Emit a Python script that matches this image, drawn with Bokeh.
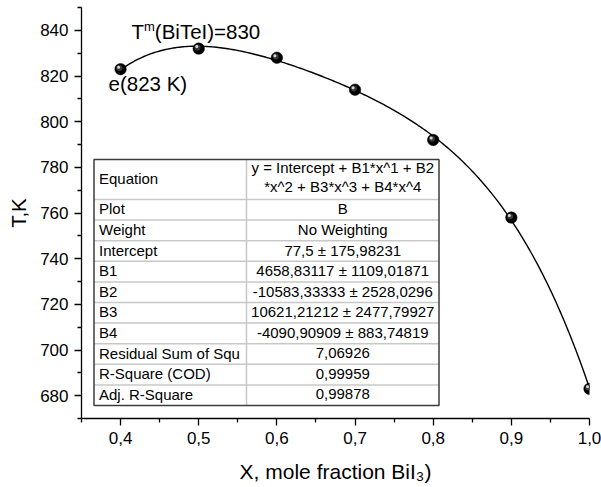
import numpy as np
from bokeh.plotting import figure
from bokeh.models import Range1d, FixedTicker, CustomJSTickFormatter, Label
from bokeh.core.properties import value
from bokeh.embed import file_html
from bokeh.resources import INLINE

# ---------------- data ----------------
x_frac = [0.4, 0.5, 0.6, 0.7, 0.8, 0.9, 1.0]
t_k = [823, 832, 828, 814, 792, 758, 683]
# polynomial fit coefficients shown in the table (Intercept, B1..B4)
fit_coef = [77.5, 4658.83117, -10583.33333, 10621.21212, -4090.90909]

x_ticks = [0.4, 0.5, 0.6, 0.7, 0.8, 0.9, 1.0]
x_minor = [0.35, 0.45, 0.55, 0.65, 0.75, 0.85, 0.95]
y_ticks = [680, 700, 720, 740, 760, 780, 800, 820, 840]
y_minor = [670, 690, 710, 730, 750, 770, 790, 810, 830, 850]

table_names = ["Equation", "Plot", "Weight", "Intercept", "B1", "B2", "B3", "B4",
               "Residual Sum of Squ", "R-Square (COD)", "Adj. R-Square"]
table_values = [["y = Intercept + B1*x^1 + B2", "*x^2 + B3*x^3 + B4*x^4"],
                ["B"], ["No Weighting"], ["77,5 \u00b1 175,98231"],
                ["4658,83117 \u00b1 1109,01871"], ["-10583,33333 \u00b1 2528,0296"],
                ["10621,21212 \u00b1 2477,79927"], ["-4090,90909 \u00b1 883,74819"],
                ["7,06926"], ["0,99959"], ["0,99878"]]

x_label = "X, mole fraction BiI\u2083)"
y_label = "T,K"
melt_label = ["T", "m", "(BiTeI)=830"]
eut_label = "e(823 K)"

# ---------------- layout ----------------
W, H = 601, 487
FL, FR, FT, FB = 81, 589, 7, 418
XMIN, XMAX, YMIN, YMAX = 0.35, 1.0, 670, 850
FONT = "Liberation Sans"
BSHIFT = 0.42  # baseline correction (fraction of font size)


def dx(px):
    return XMIN + (px - FL) / (FR - FL) * (XMAX - XMIN)


def dy(py):
    return YMAX - (py - FT) / (FB - FT) * (YMAX - YMIN)


ADV = {'X': .667, ',': .278, ' ': .278, 'm': .833, 'o': .556, 'l': .222, 'e': .556,
       'f': .278, 'r': .333, 'a': .556, 'c': .5, 't': .278, 'i': .222, 'n': .556,
       'B': .667, 'I': .278, ')': .333, '(': .333, 'T': .611, 'K': .667, '=': .584}


def tw(s, size):
    return sum(ADV.get(ch, .556) for ch in s) * size


p = figure(width=W, height=H, x_range=Range1d(XMIN, XMAX), y_range=Range1d(YMIN, YMAX),
           output_backend="svg", toolbar_location=None,
           min_border_left=FL, min_border_right=W - FR, min_border_top=FT,
           min_border_bottom=H - FB)
p.outline_line_color = None
p.grid.visible = False
p.background_fill_color = "white"
p.border_fill_color = "white"

for ax in (p.xaxis[0], p.yaxis[0]):
    ax.axis_line_width = 1.3
    ax.axis_line_color = "black"
    ax.major_tick_line_width = 1.3
    ax.minor_tick_line_width = 1.3
    ax.major_tick_out = 7
    ax.major_tick_in = 0
    ax.minor_tick_out = 4
    ax.minor_tick_in = 0
    ax.major_label_text_font = FONT
    ax.major_label_text_font_size = "17px"
    ax.major_label_text_color = "black"
    ax.major_label_standoff = 6
    ax.axis_label_text_font = FONT
    ax.axis_label_text_font_style = "normal"
    ax.axis_label_text_color = "black"

p.xaxis.axis_label = x_label
p.xaxis.axis_label_text_font_size = "21px"
p.xaxis.axis_label_standoff = 13
p.yaxis.axis_label = y_label
p.yaxis.axis_label_text_font_size = "20.5px"
p.yaxis.axis_label_standoff = 7

p.xaxis.ticker = FixedTicker(ticks=x_ticks, minor_ticks=x_minor)
p.yaxis.ticker = FixedTicker(ticks=y_ticks, minor_ticks=y_minor)
p.xaxis.formatter = CustomJSTickFormatter(code="return tick.toFixed(1).replace('.', ',');")
p.yaxis.formatter = CustomJSTickFormatter(code="return tick.toFixed(0);")

# ---------------- fit curve ----------------
xs = np.linspace(min(x_frac), max(x_frac), 241)
ys = sum(c * xs ** i for i, c in enumerate(fit_coef))
p.line(xs, ys, line_color="black", line_width=1.4)

# ---------------- table ----------------
T_LEFT, T_RIGHT, T_DIV = 93.5, 438.5, 246
T_TOP, EQ_H, ROW_H = 159, 40, 20.6
TSIZE = 15
row_edges = [T_TOP, T_TOP + EQ_H] + [T_TOP + EQ_H + ROW_H * (i + 1) for i in range(len(table_names) - 1)]
T_BOT = row_edges[-1]

p.quad(left=[dx(T_LEFT)], right=[dx(T_RIGHT)], top=[dy(T_TOP)], bottom=[dy(T_BOT)],
       fill_color="white", line_color=None)
p.segment(x0=[dx(T_LEFT)] * (len(row_edges) - 2), x1=[dx(T_RIGHT)] * (len(row_edges) - 2),
          y0=[dy(v) for v in row_edges[1:-1]], y1=[dy(v) for v in row_edges[1:-1]],
          line_color="#c8c8c8", line_width=1.5)
p.segment(x0=[dx(T_DIV)], x1=[dx(T_DIV)], y0=[dy(T_TOP)], y1=[dy(T_BOT)],
          line_color="#c8c8c8", line_width=1.5)
p.quad(left=[dx(T_LEFT)], right=[dx(T_RIGHT)], top=[dy(T_TOP)], bottom=[dy(T_BOT)],
       fill_color=None, line_color="#3c3c3c", line_width=1.5)

sh = BSHIFT * TSIZE
name_x, name_y, val_x, val_y, val_t = [], [], [], [], []
for i, (nm, vals) in enumerate(zip(table_names, table_values)):
    top = row_edges[i]
    name_x.append(dx(T_LEFT + 5))
    if i == 0:
        name_y.append(dy(top + 25.5 - sh))
        for j, v in enumerate(vals):
            val_x.append(dx((T_DIV + T_RIGHT) / 2))
            val_y.append(dy(top + 14.5 + 18.5 * j - sh))
            val_t.append(v)
    else:
        name_y.append(dy(top + 15.7 - sh))
        val_x.append(dx((T_DIV + T_RIGHT) / 2))
        val_y.append(dy(top + 15.7 - sh))
        val_t.append(vals[0])

p.text(x=name_x, y=name_y, text=table_names, text_font=value(FONT), text_font_size=f"{TSIZE}px",
       text_color="black", text_align="left", text_baseline="alphabetic")
p.text(x=val_x, y=val_y, text=val_t, text_font=value(FONT), text_font_size=f"{TSIZE}px",
       text_color="black", text_align="center", text_baseline="alphabetic")

# ---------------- data points (shaded spheres) ----------------
ux = (XMAX - XMIN) / (FR - FL)
uy = (YMAX - YMIN) / (FB - FT)
p.scatter(x_frac, t_k, size=11.5, fill_color="black", line_color="black", line_width=0.5)
p.scatter([v - 1.2 * ux for v in x_frac], [v + 1.2 * uy for v in t_k], size=6,
          fill_color="#3a3a3a", line_color=None)
p.scatter([v - 2.0 * ux for v in x_frac], [v + 2.0 * uy for v in t_k], size=3,
          fill_color="#d8d8d8", line_color=None)

# ---------------- annotations ----------------
an_size, an_sup = 20.5, 13
ash = BSHIFT * an_size
ax0, abase = 131, 39.5
p.add_layout(Label(x=dx(ax0), y=dy(abase - ash), text=melt_label[0], text_font=FONT,
                   text_font_size=f"{an_size}px", text_baseline="alphabetic", text_color="black"))
ax1 = ax0 + tw(melt_label[0], an_size)
p.add_layout(Label(x=dx(ax1), y=dy(abase - 8 - BSHIFT * an_sup), text=melt_label[1], text_font=FONT,
                   text_font_size=f"{an_sup}px", text_baseline="alphabetic", text_color="black"))
ax2 = ax1 + tw(melt_label[1], an_sup)
p.add_layout(Label(x=dx(ax2), y=dy(abase - ash), text=melt_label[2], text_font=FONT,
                   text_font_size=f"{an_size}px", text_baseline="alphabetic", text_color="black"))
p.add_layout(Label(x=dx(108), y=dy(92 - ash), text=eut_label, text_font=FONT,
                   text_font_size=f"{an_size}px", text_baseline="alphabetic", text_color="black"))

open("out.html", "w").write(file_html(p, INLINE))
